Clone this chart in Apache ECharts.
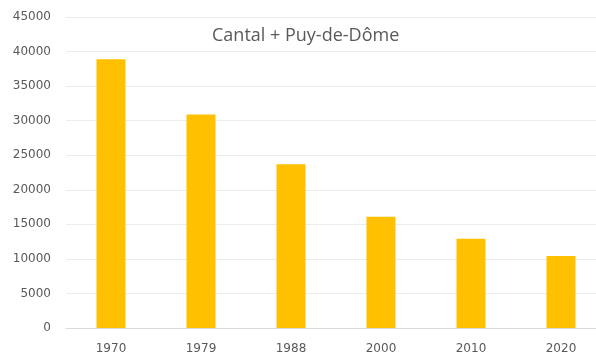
<!DOCTYPE html>
<html>
<head>
<meta charset="utf-8">
<script src="https://cdn.jsdelivr.net/npm/echarts@6/dist/echarts.min.js"></script>
<style>
  html, body { margin: 0; padding: 0; background: #fff; }
  #chart { width: 596px; height: 355px; }
</style>
</head>
<body>
<div id="chart"></div>
<script>
// Farm counts, Cantal + Puy-de-Dôme, by census year
const years = ['1970', '1979', '1988', '2000', '2010', '2020'];
const farms = [38900, 30900, 23700, 16100, 12900, 10400];
const chartTitle = 'Cantal + Puy-de-Dôme';

const chart = echarts.init(document.getElementById('chart'), null, { renderer: 'canvas' });
chart.setOption({
  animation: false,
  backgroundColor: '#ffffff',
  title: {
    text: chartTitle,
    left: 207,
    top: 22,
    textStyle: {
      fontFamily: 'Open Sans',
      fontSize: 18,
      fontWeight: 'normal',
      color: '#595959'
    }
  },
  grid: {
    left: 66,
    width: 540,
    top: 17,
    height: 311,
    outerBoundsMode: 'none',
    containLabel: false
  },
  xAxis: {
    type: 'category',
    data: years,
    axisTick: { show: false },
    axisLine: { lineStyle: { color: '#d9d9d9', width: 1 } },
    axisLabel: {
      fontFamily: 'DejaVu Sans',
      fontSize: 12,
      color: '#595959',
      margin: 15
    }
  },
  yAxis: {
    type: 'value',
    min: 0,
    max: 45000,
    interval: 5000,
    axisLine: { show: false },
    axisTick: { show: false },
    splitLine: { lineStyle: { color: '#ececec', width: 1 } },
    axisLabel: {
      fontFamily: 'DejaVu Sans',
      fontSize: 12,
      color: '#595959',
      margin: 15,
      formatter: function (v) { return String(v); }
    }
  },
  series: [{
    type: 'bar',
    data: farms,
    barWidth: 29,
    itemStyle: { color: '#ffc000' }
  }]
});
</script>
</body>
</html>
